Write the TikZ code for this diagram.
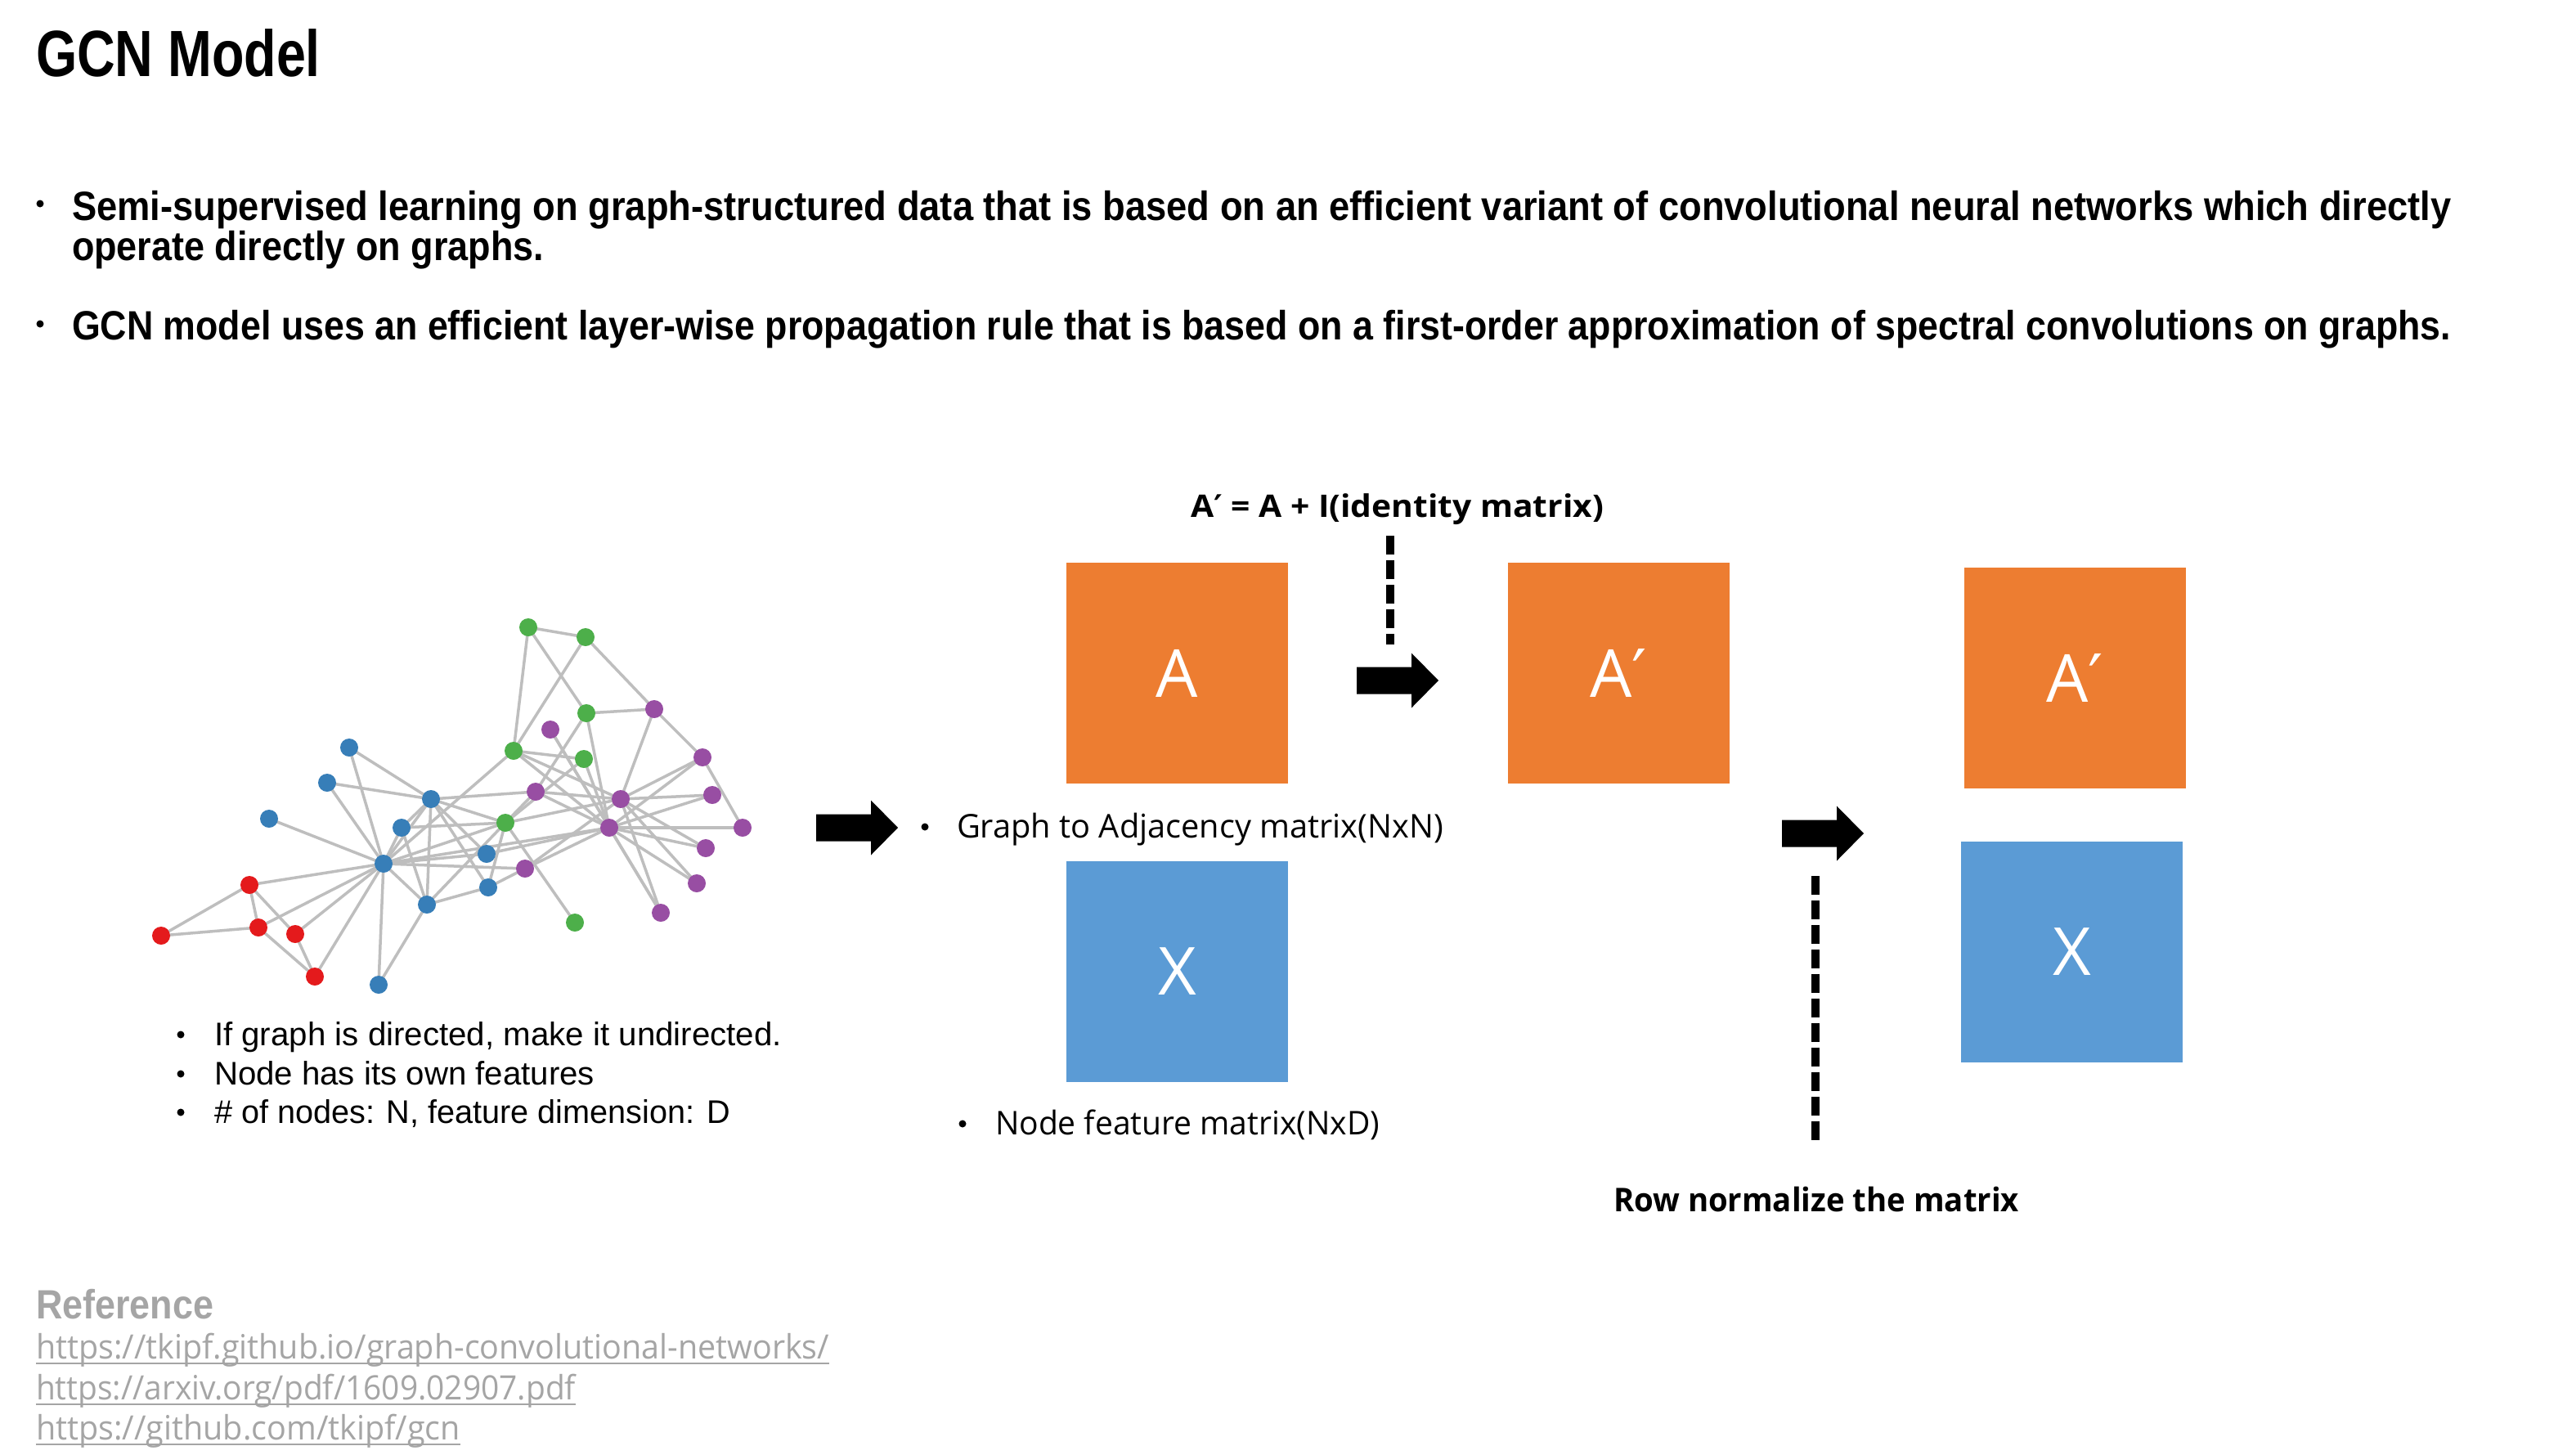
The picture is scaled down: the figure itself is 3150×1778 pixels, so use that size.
\documentclass[tikz,border=0pt]{standalone}
\usepackage{fontspec}
\usepackage{graphicx}
\setmainfont{Liberation Sans}
\newfontfamily\uifont{Open Sans}
\newfontfamily\symfont{DejaVu Sans}

% squeeze a text horizontally to a given width (in pt), keeping its height
\newcommand\fitw[2]{\resizebox{#1pt}{\height}{#2}}

\definecolor{boxorange}{RGB}{237,125,49}
\definecolor{boxblue}{RGB}{91,155,213}
\definecolor{nred}{RGB}{228,26,28}
\definecolor{nblue}{RGB}{55,126,184}
\definecolor{ngreen}{RGB}{77,175,74}
\definecolor{npurple}{RGB}{152,78,163}
\definecolor{edgegray}{RGB}{190,190,190}
\definecolor{refgray}{RGB}{165,165,165}

\pgfdeclarelayer{paper}
\pgfdeclarelayer{links}
\pgfsetlayers{paper,links,main}

\tikzset{
  txt/.style={anchor=base west, inner sep=0pt, outer sep=0pt},
  matbox/.style={minimum width=271pt, minimum height=270pt, inner sep=0pt,
                 text=white, font=\uifont\fontsize{81}{81}\selectfont},
  gnode/.style={circle, fill=#1, minimum size=22pt, inner sep=0pt},
  link/.style={edgegray, line width=3.5pt},
  dashline/.style={line width=9.5pt, dash pattern=on 23pt off 7pt},
  blockarrow/.pic={\fill[black] (0,-16.5) -- (67,-16.5) -- (67,-33.5) -- (100,0)
                   -- (67,33.5) -- (67,16.5) -- (0,16.5) -- cycle;}
}

\begin{document}
\begin{tikzpicture}[x=1pt,y=-1pt]
\useasboundingbox (0,0) rectangle (3150,1778);
\begin{pgfonlayer}{paper}
  \fill[white] (0,0) rectangle (3150,1778);
\end{pgfonlayer}

% ---------- heading and top bullets ----------
\node[txt] (title) at (44,93) {\fitw{348}{\fontsize{80}{80}\selectfont\bfseries GCN Model}};

\fill (49,249) circle (4.5pt);
\node[txt] (pt1) at (88,269) {\fitw{2909}{\fontsize{50}{50}\selectfont\bfseries Semi-supervised learning on graph-structured data that is based on an efficient variant of convolutional neural networks which directly}};
\node[txt] (pt1b) at (88,318) {\fitw{577}{\fontsize{50}{50}\selectfont\bfseries operate directly on graphs.}};
\fill (49,396) circle (4.5pt);
\node[txt] (pt2) at (88,415) {\fitw{2909}{\fontsize{50}{50}\selectfont\bfseries GCN model uses an efficient layer-wise propagation rule that is based on a first-order approximation of spectral convolutions on graphs.}};

% ---------- example graph ----------
\node[gnode=ngreen] (g1) at (646,767) {};
\node[gnode=ngreen] (g2) at (716,779) {};
\node[gnode=ngreen] (g3) at (717,872) {};
\node[gnode=ngreen] (g4) at (628,918) {};
\node[gnode=ngreen] (g5) at (714,928) {};
\node[gnode=ngreen] (g6) at (618,1006) {};
\node[gnode=ngreen] (g7) at (703,1128) {};
\node[gnode=npurple] (p1) at (800,867) {};
\node[gnode=npurple] (p2) at (673,892) {};
\node[gnode=npurple] (p3) at (859,926) {};
\node[gnode=npurple] (p4) at (871,972) {};
\node[gnode=npurple] (p5) at (759,977) {};
\node[gnode=npurple] (p6) at (655,968) {};
\node[gnode=npurple] (p7) at (745,1012) {};
\node[gnode=npurple] (p8) at (908,1012) {};
\node[gnode=npurple] (p9) at (863,1037) {};
\node[gnode=npurple] (p10) at (642,1062) {};
\node[gnode=npurple] (p11) at (852,1080) {};
\node[gnode=npurple] (p12) at (808,1116) {};
\node[gnode=nblue] (b1) at (427,914) {};
\node[gnode=nblue] (b2) at (400,957) {};
\node[gnode=nblue] (b3) at (329,1001) {};
\node[gnode=nblue] (b4) at (527,977) {};
\node[gnode=nblue] (b5) at (491,1012) {};
\node[gnode=nblue] (b6) at (469,1056) {};
\node[gnode=nblue] (b7) at (595,1044) {};
\node[gnode=nblue] (b8) at (597,1085) {};
\node[gnode=nblue] (b9) at (522,1106) {};
\node[gnode=nblue] (b10) at (463,1204) {};
\node[gnode=nred] (r1) at (305,1082) {};
\node[gnode=nred] (r2) at (197,1144) {};
\node[gnode=nred] (r3) at (316,1134) {};
\node[gnode=nred] (r4) at (361,1142) {};
\node[gnode=nred] (r5) at (385,1194) {};

\begin{pgfonlayer}{links}
\foreach \a/\b in {g1/g2, g1/g4, g1/g3, g2/g4, g2/p1, g3/p1, g3/p6, g3/p7,
  p1/p3, p1/p5, p3/p8, p3/p5, p3/p7, p4/p5, p4/p7, p8/p7, p9/p5, p9/p7,
  p11/p5, p11/p7, p12/p5, p12/p7, p2/p7, p2/p12,
  g4/g5, g4/p5, g4/p7, g4/b6, g5/p7, g5/g6,
  p6/p5, p6/p7, p6/b4, g6/b4, g6/b5, g6/b6, g6/b9, g6/g7, g6/p5, g6/p6, g6/b8,
  p10/p7, p10/p5, p10/b8, b7/p7, b6/p7, b6/p10, b6/b7,
  b4/b7, b4/b8, b4/b9, b4/b6, b4/b5, b5/b6, b5/b9,
  b1/b4, b1/b6, b2/b4, b2/b6, b3/b6,
  b9/b8, b9/b10, b6/b9, b6/b10,
  r1/r2, r1/r3, r1/r4, r2/r3, r3/r5, r4/r5, r1/b6, r3/b6, r4/b6, r5/b6}
  \draw[link] (\a.center) -- (\b.center);
\end{pgfonlayer}

% notes under the graph
\fill (221,1265) circle (4.5pt);
\node[txt] (n1) at (262,1278) {\fitw{694}{\fontsize{40}{40}\selectfont If graph is directed, make it undirected.}};
\fill (221,1313) circle (4.5pt);
\node[txt] (n2) at (262,1326) {\fitw{465}{\fontsize{40}{40}\selectfont Node has its own features}};
\fill (221,1360) circle (4.5pt);
\node[txt] (n3) at (262,1373) {\fitw{631}{\fontsize{40}{40}\selectfont \# of nodes: N, feature dimension: D}};

% ---------- matrices ----------
\pic (arrL) at (998,1012) {blockarrow};

\node[matbox, fill=boxorange] (A) at (1439.5,823) {A};
\node[matbox, fill=boxblue] (X) at (1439.5,1187.5) {X};
\fill (1131,1011) circle (4.5pt);
\node[txt] (adjtxt) at (1170,1024) {\fitw{595}{\uifont\fontsize{40}{40}\selectfont Graph to Adjacency matrix(NxN)}};
\fill (1177,1374) circle (4.5pt);
\node[txt] (feattxt) at (1217,1387) {\fitw{470}{\uifont\fontsize{40}{40}\selectfont Node feature matrix(NxD)}};

\node[txt] (eq) at (1456,632) {\fitw{505}{\uifont\bfseries\fontsize{38}{38}\selectfont A{\symfont\bfseries ′} = A + I(identity matrix)}};
\coordinate (d1top) at (1700,655);
\coordinate (d1bot) at (1700,788);
\draw[dashline] (d1top) -- (d1bot);
\pic (arr1) at (1659,832) {blockarrow};

\node[matbox, fill=boxorange] (A2) at (1979,823) {A{\symfont ′}};

\pic (arr2) at (2179,1019) {blockarrow};
\coordinate (d2top) at (2220,1071);
\coordinate (d2bot) at (2220,1399);
\draw[dashline] (d2top) -- (d2bot);
\node[txt] (rownorm) at (1973,1481) {\fitw{496}{\uifont\bfseries\fontsize{40}{40}\selectfont Row normalize the matrix}};

\node[matbox, fill=boxorange] (A3) at (2537.5,828.5) {A{\symfont ′}};
\node[matbox, fill=boxblue] (X3) at (2533.5,1164) {X};

% ---------- references ----------
\node[txt, text=refgray] (ref) at (44,1612) {\fitw{217}{\fontsize{50}{50}\selectfont\bfseries Reference}};
\node[txt, text=refgray] (u1) at (44,1661) {\fitw{970}{\uifont\fontsize{41}{41}\selectfont https://tkipf.github.io/graph-convolutional-networks/}};
\node[txt, text=refgray] (u2) at (44,1711) {\fitw{660}{\uifont\fontsize{41}{41}\selectfont https://arxiv.org/pdf/1609.02907.pdf}};
\node[txt, text=refgray] (u3) at (44,1760) {\fitw{519}{\uifont\fontsize{41}{41}\selectfont https://github.com/tkipf/gcn}};
\foreach \u in {u1,u2,u3}
  \draw[refgray, line width=2.5pt] ([yshift=-6pt]\u.base west) -- ([yshift=-6pt]\u.base east);
\end{tikzpicture}
\end{document}
